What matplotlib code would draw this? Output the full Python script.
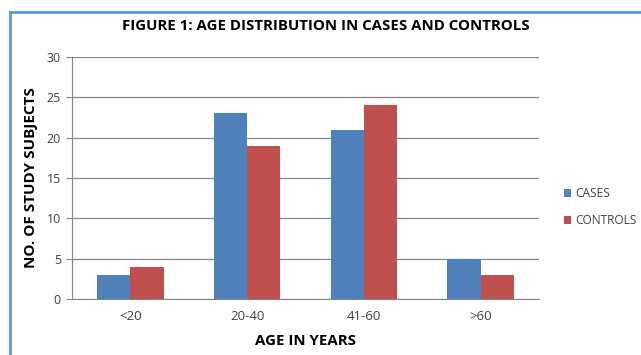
import matplotlib.pyplot as plt
from matplotlib.lines import Line2D
import numpy as np

# Age groups and counts of study subjects
ageGroups = ["<20", "20-40", "41-60", ">60"]
cases = [3, 23, 21, 5]
controls = [4, 19, 24, 3]

plt.rcParams['font.family'] = ['Open Sans', 'DejaVu Sans']

fig = plt.figure(figsize=(6.41, 3.55), dpi=100)
ax = fig.add_axes([0.1123, 0.1577, 0.7287, 0.6817])

x = np.arange(len(ageGroups))
w = 0.285
ax.bar(x - w / 2, cases, width=w, color="#4f81bd", label="CASES")
ax.bar(x + w / 2, controls, width=w, color="#c0504d", label="CONTROLS")

ax.set_xlim(-0.5, 3.5)
ax.set_ylim(0, 30)
ax.set_yticks(range(0, 31, 5))
ax.set_xticks(x)
ax.set_xticklabels(ageGroups)
ax.yaxis.grid(True, color="#868686", linewidth=0.9)
ax.set_axisbelow(True)

for side in ["top", "right"]:
    ax.spines[side].set_visible(False)
ax.spines["left"].set_color("#868686")
ax.spines["bottom"].set_color("#868686")
ax.tick_params(axis="y", length=4, color="#868686", labelsize=9, labelcolor="#404040", pad=4)
ax.tick_params(axis="x", length=0, labelsize=9.5, labelcolor="#404040", pad=8)

ax.set_xlabel("AGE IN YEARS", fontsize=10.8, fontweight="bold", labelpad=8)
ax.set_ylabel("NO. OF STUDY SUBJECTS", fontsize=11, fontweight="bold", labelpad=6)
fig.text(0.508, 0.928, "FIGURE 1: AGE DISTRIBUTION IN CASES AND CONTROLS",
         ha="center", va="center", fontsize=10.8, fontweight="bold")

ax.legend(loc="center left", bbox_to_anchor=(1.035, 0.38), frameon=False,
          fontsize=8.6, handlelength=0.6, handleheight=0.6, handletextpad=0.35,
          labelspacing=1.15, labelcolor="#404040", borderpad=0.2)

# Blue chart frame along the left and top edges
fig.add_artist(Line2D([0.015, 0.015], [0, 0.966], color="#5b9bd5", linewidth=2, transform=fig.transFigure))
fig.add_artist(Line2D([0.015, 1.0], [0.966, 0.966], color="#5b9bd5", linewidth=2, transform=fig.transFigure))

fig.savefig("out.png", dpi=100)
